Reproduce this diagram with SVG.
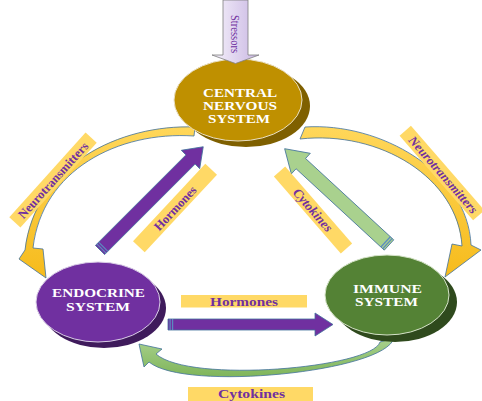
<svg xmlns="http://www.w3.org/2000/svg" width="482" height="401" viewBox="0 0 482 401">
<defs>
<linearGradient id="gStress" x1="0" y1="0" x2="1" y2="0"><stop offset="0" stop-color="#f6f2fb"/><stop offset="1" stop-color="#c9b7e3"/></linearGradient>
<linearGradient id="gYel" x1="0" y1="0" x2="0" y2="1"><stop offset="0" stop-color="#ffd75a"/><stop offset="1" stop-color="#f6bb1c"/></linearGradient>
<linearGradient id="gGreen" x1="0" y1="0" x2="0" y2="1"><stop offset="0" stop-color="#a9d18e"/><stop offset="1" stop-color="#7fb55a"/></linearGradient>
<style>
.lbl{fill:#ffd966}
.lt{font-family:"Liberation Serif","Times New Roman",serif;font-weight:bold;fill:#7030a0;text-anchor:middle}
.it{font-style:italic}
.nt{font-family:"Liberation Serif","Times New Roman",serif;font-weight:bold;fill:#ffffff;text-anchor:middle}
.edge{stroke:#41719c;stroke-width:0.8;stroke-linejoin:round}
.purple{fill:#7030a0}
.stripe{fill:#5b8bc0}
</style>
</defs>
<rect width="482" height="401" fill="#ffffff"/>
<g id="connectors">
<!-- left yellow curved arrow: CNS -> endocrine -->
<path class="edge" fill="url(#gYel)" d="M 195,127 C 120,124 35,165 25,250 L 19,259 L 46,278 L 43,249 L 33,248 C 42,170 118,131 194,136 Z"/>
<!-- right yellow curved arrow: CNS -> immune -->
<path class="edge" fill="url(#gYel)" d="M 305,127 C 380,122 468,172 471,245 L 481,250 L 445,277 L 452,244 L 462,246 C 458,178 380,130 300,139 Z"/>
<!-- bottom green curved arrow: immune -> endocrine -->
<path class="edge" fill="url(#gGreen)" d="M 394,338 C 385,372 185,392 149,362 L 144,367 L 139,344 L 162,349 L 156,354 C 190,384 372,368 380,342 Z"/>
<!-- diagonal purple: endocrine -> CNS -->
<g transform="translate(100,250) rotate(-45)">
<path class="purple edge" d="M 0,-6.5 L 128,-6.5 L 128,-13 L 146,0 L 128,13 L 128,6.5 L 0,6.5 Z"/>
<rect class="stripe" x="1.5" y="-6.5" width="1.2" height="13"/>
<rect class="stripe" x="4" y="-6.5" width="1.2" height="13"/>
</g>
<!-- diagonal green: immune -> CNS -->
<g transform="translate(389,245) rotate(-137.3)">
<path class="edge" fill="#a9d18e" d="M 0,-7 L 120,-7 L 120,-14 L 142,0 L 120,14 L 120,7 L 0,7 Z"/>
<rect class="stripe" x="1.5" y="-7" width="1.2" height="14"/>
<rect class="stripe" x="4" y="-7" width="1.2" height="14"/>
</g>
<!-- horizontal purple: endocrine -> immune -->
<path class="purple edge" d="M 168,319 L 315,319 L 315,313 L 333,324.5 L 315,336 L 315,330 L 168,330 Z"/>
<rect class="stripe" x="169.5" y="319" width="1.2" height="11"/>
<rect class="stripe" x="172" y="319" width="1.2" height="11"/>
</g>
<g id="cns">
<ellipse cx="246" cy="106" rx="64" ry="41" fill="#7f6000"/>
<ellipse cx="238" cy="100" rx="64" ry="41" fill="#bf9000" stroke="#e9dfc4" stroke-width="1"/>
<text class="nt" font-size="11.5" x="240" y="96.5" textLength="74" lengthAdjust="spacingAndGlyphs">CENTRAL</text>
<text class="nt" font-size="11.5" x="240" y="109.5" textLength="74" lengthAdjust="spacingAndGlyphs">NERVOUS</text>
<text class="nt" font-size="11.5" x="239" y="122.5" textLength="62" lengthAdjust="spacingAndGlyphs">SYSTEM</text>
</g>
<g id="stressors">
<path d="M 223,0 L 248,0 L 248,55 L 259,55 L 235.5,63.5 L 212,55 L 223,55 Z" fill="url(#gStress)" stroke="#7f7f7f" stroke-width="0.8"/>
<text transform="translate(230.5,15) rotate(90)" font-family="'Liberation Serif','Times New Roman',serif" font-size="13" fill="#7030a0" textLength="38" lengthAdjust="spacingAndGlyphs">Stressors</text>
</g>
<g id="endocrine">
<ellipse cx="104" cy="308" rx="62" ry="40" fill="#3f1b5c"/>
<ellipse cx="98" cy="302" rx="62" ry="40" fill="#7030a0" stroke="#d9cde6" stroke-width="1"/>
<text class="nt" font-size="12" x="98.5" y="297" textLength="93" lengthAdjust="spacingAndGlyphs">ENDOCRINE</text>
<text class="nt" font-size="12" x="98" y="311" textLength="64" lengthAdjust="spacingAndGlyphs">SYSTEM</text>
</g>
<g id="immune">
<ellipse cx="395" cy="302" rx="62" ry="40" fill="#2f4a1d"/>
<ellipse cx="387" cy="295" rx="62" ry="40" fill="#548235" stroke="#d5e3c8" stroke-width="1"/>
<text class="nt" font-size="11.5" x="387.5" y="292.5" textLength="69" lengthAdjust="spacingAndGlyphs">IMMUNE</text>
<text class="nt" font-size="11.5" x="386.5" y="305.5" textLength="63" lengthAdjust="spacingAndGlyphs">SYSTEM</text>
</g>
<g id="labels">
<g transform="translate(53,180) rotate(-48)">
<rect class="lbl" x="-57" y="-7.5" width="114" height="15"/>
<text class="lt" font-size="12.5" x="0" y="4.5" textLength="98" lengthAdjust="spacingAndGlyphs">Neurotransmitters</text>
</g>
<g transform="translate(442,173) rotate(49)">
<rect class="lbl" x="-56" y="-7.5" width="112" height="15"/>
<text class="lt it" font-size="12.5" x="2" y="4.5" textLength="98" lengthAdjust="spacingAndGlyphs">Neurotransmitters</text>
</g>
<g transform="translate(175,208) rotate(-47)">
<rect class="lbl" x="-53" y="-8" width="106" height="16"/>
<text class="lt" font-size="12.5" x="0" y="4.5" textLength="56" lengthAdjust="spacingAndGlyphs">Hormones</text>
</g>
<g transform="translate(313,210) rotate(49)">
<rect class="lbl" x="-51" y="-7.5" width="102" height="15"/>
<text class="lt it" font-size="13" x="0" y="4.5" textLength="53" lengthAdjust="spacingAndGlyphs">Cytokines</text>
</g>
<rect class="lbl" x="181" y="295" width="126" height="12.5"/>
<text class="lt" font-size="12" x="244" y="305.5" textLength="68" lengthAdjust="spacingAndGlyphs">Hormones</text>
<rect class="lbl" x="188" y="387" width="125" height="14"/>
<text class="lt" font-size="12" x="251.5" y="398" textLength="67" lengthAdjust="spacingAndGlyphs">Cytokines</text>
</g>
</svg>
